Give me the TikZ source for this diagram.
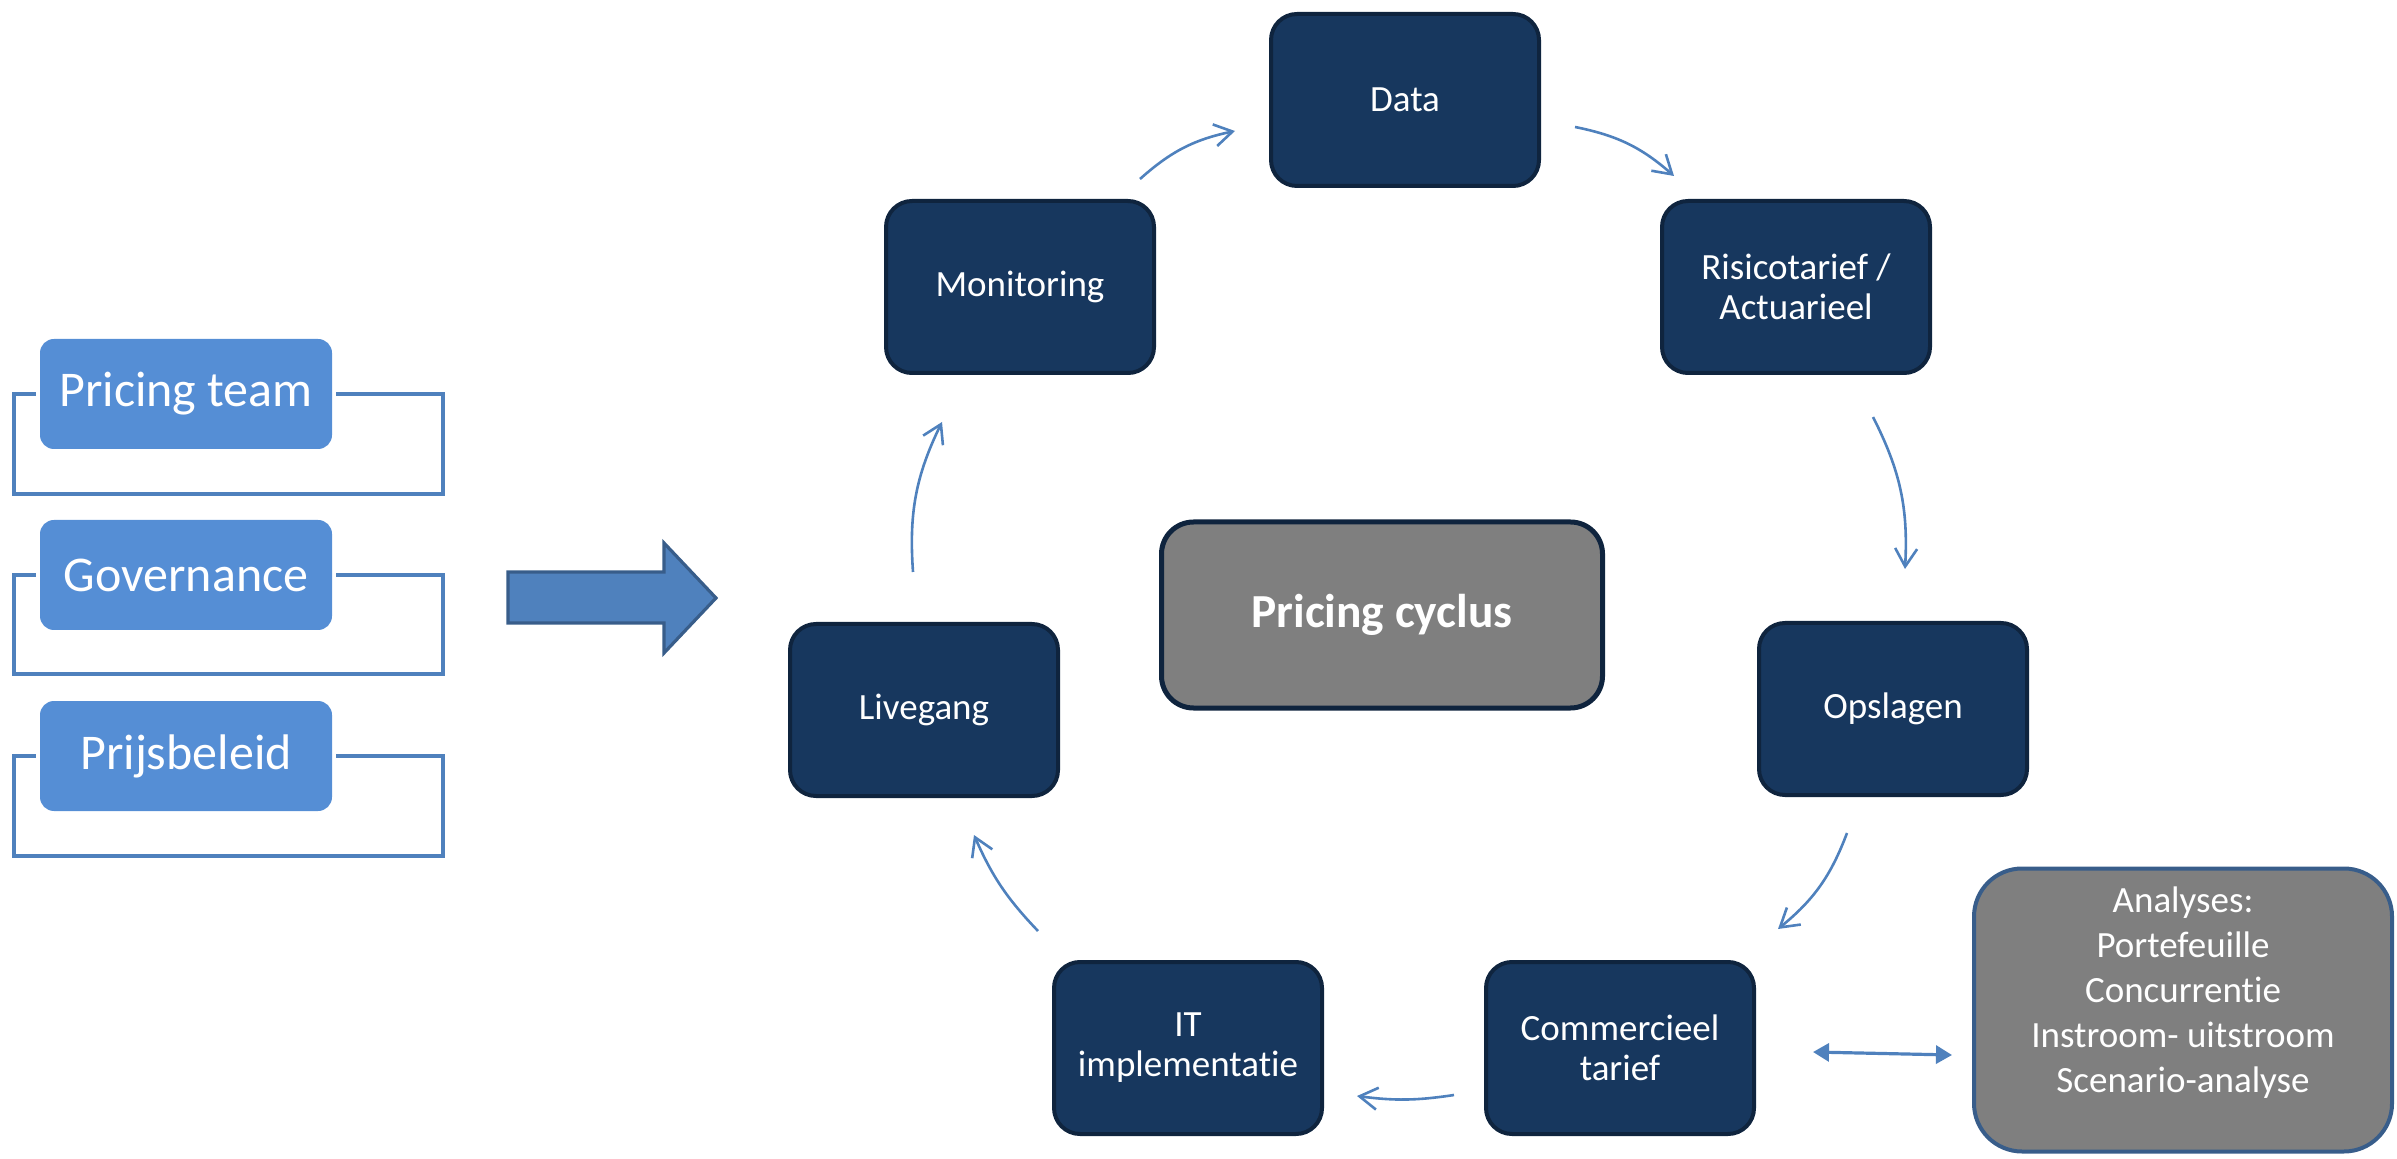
\documentclass[tikz,border=0pt]{standalone}
\usepackage{fontspec}
\setmainfont{Carlito}[RawFeature={-liga}]
\usetikzlibrary{arrows.meta}
\definecolor{navy}{HTML}{17375E}
\definecolor{navyline}{HTML}{0F243E}
\definecolor{midgray}{HTML}{7F7F7F}
\definecolor{lightblue}{HTML}{558ED5}
\definecolor{lineblue}{HTML}{4F81BD}
\definecolor{borderblue}{HTML}{385D8A}
\begin{document}
\begin{tikzpicture}[x=0.5pt,y=0.5pt,
  stepbox/.style={draw=navyline, line width=2pt, fill=navy, rounded corners=13pt,
    minimum width=134pt, minimum height=86pt, text=white, align=center,
    font=\fontsize{18.5}{20}\selectfont, inner sep=2pt},
  centerbox/.style={draw=navyline, line width=2.5pt, fill=midgray, rounded corners=16pt,
    minimum width=220.5pt, minimum height=93pt, text=white,
    font=\fontsize{23.7}{28}\selectfont\bfseries},
  anbox/.style={draw=borderblue, line width=2pt, fill=midgray, rounded corners=24pt,
    minimum width=209pt, minimum height=141.5pt},
  antext/.style={text=white, align=center, font=\fontsize{18.5}{22.5}\selectfont, inner sep=0pt},
  sidebox/.style={fill=lightblue, rounded corners=7pt, minimum width=146pt,
    minimum height=55pt, text=white, font=\fontsize{25}{30}\selectfont},
  bracket/.style={draw=lineblue, line width=2pt},
  flow/.style={draw=lineblue, line width=1.3pt, -{Straight Barb[length=9pt,width=11pt]}},
  both/.style={draw=lineblue, line width=1.6pt, {Triangle[length=8pt,width=9pt]}-{Triangle[length=8pt,width=9pt]}}
]
\useasboundingbox (0,0) rectangle (2397,-1159);

% cycle nodes
\node[stepbox] (data) at (1405,-100) {Data};
\node[stepbox] (mon)  at (1020,-287) {Monitoring};
\node[stepbox] (ris)  at (1796,-287) {Risicotarief /\\Actuarieel};
\node[stepbox] (live) at (924,-710) {Livegang};
\node[stepbox] (ops)  at (1893,-709) {Opslagen};
\node[stepbox] (it)   at (1188,-1048) {IT\\implementatie};
\node[stepbox] (com)  at (1620,-1048) {Commercieel\\tarief};
\node[centerbox] (pc) at (1382,-615) {Pricing cyclus};
\node[anbox] (an) at (2183,-1010) {};
\node[antext] (antxt) at (2183,-993) {Analyses:\\Portefeuille\\Concurrentie\\Instroom- uitstroom\\Scenario-analyse};

% side boxes
\node[sidebox] (team) at (186,-394) {Pricing team};
\node[sidebox] (gov)  at (186,-575) {Governance};
\node[sidebox] (pb)   at (186,-756) {Prijsbeleid};

% brackets
\draw[bracket] ([xshift=-2pt]team.west) -- (14,-394) -- (14,-494) -- (443,-494) -- (443,-394) -- ([xshift=2pt]team.east);
\draw[bracket] ([xshift=-2pt]gov.west) -- (14,-575) -- (14,-674) -- (443,-674) -- (443,-575) -- ([xshift=2pt]gov.east);
\draw[bracket] ([xshift=-2pt]pb.west) -- (14,-756) -- (14,-856) -- (443,-856) -- (443,-756) -- ([xshift=2pt]pb.east);

% block arrow
\draw[draw=borderblue, line width=1.6pt, fill=lineblue, line join=miter]
  (508,-572) -- (664,-572) -- (664,-543) -- (716,-598) -- (664,-653) -- (664,-623) -- (508,-623) -- cycle;

% cycle connectors
\draw[flow] ([xshift=-8pt,yshift=10pt]mon.north east) to[bend left=15] ([xshift=-17pt,yshift=-15.5pt]data.west);
\draw[flow] ([xshift=17pt,yshift=-13.5pt]data.east) to[bend left=15] ([xshift=7pt,yshift=11.5pt]ris.north west);
\draw[flow] ([xshift=38.5pt,yshift=-21pt]ris.south) to[bend left=15] ([xshift=6pt,yshift=26pt]ops.north);
\draw[flow] ([xshift=-23pt,yshift=-18pt]ops.south) to[bend left=15] ([xshift=11pt,yshift=15.5pt]com.north east);
\draw[flow] ([xshift=-15pt,yshift=-23.5pt]com.west) to[bend left=8] ([xshift=16.5pt,yshift=-24pt]it.east);
\draw[flow] ([xshift=-7pt,yshift=14.5pt]it.north west) to[bend left=10] ([xshift=25pt,yshift=-18.5pt]live.south);
\draw[flow] ([xshift=-5.5pt,yshift=25pt]live.north) to[bend left=15] ([xshift=-39pt,yshift=-23.5pt]mon.south);
\draw[both] ([xshift=28.5pt,yshift=-2pt]com.east) -- ([xshift=-10pt,yshift=-22.5pt]an.west);
\end{tikzpicture}
\end{document}
